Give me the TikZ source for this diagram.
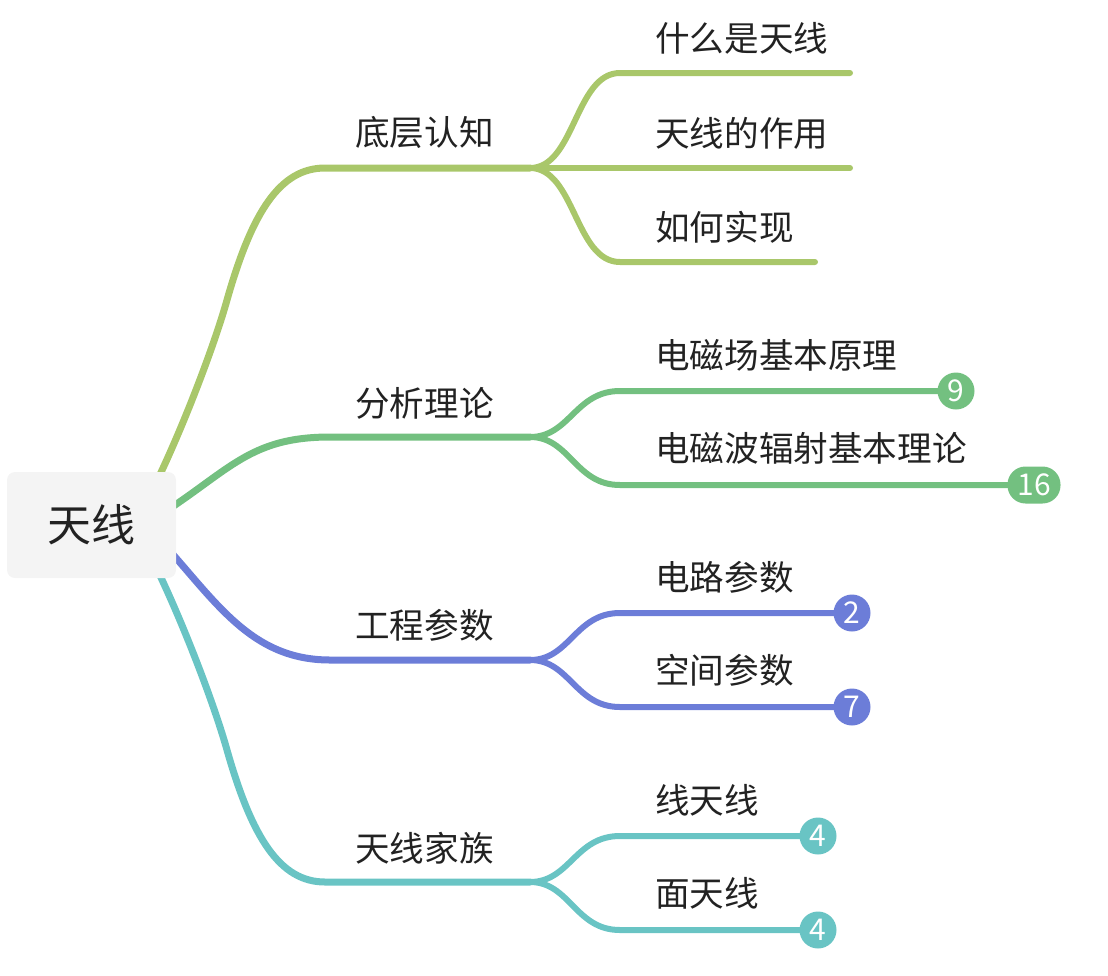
\documentclass[tikz,border=0pt]{standalone}
\usepackage{fontspec}
\newfontfamily\cjk{Noto Sans CJK SC}
\definecolor{cYG}{RGB}{169,199,106}
\definecolor{cGR}{RGB}{115,192,128}
\definecolor{cBL}{RGB}{108,125,216}
\definecolor{cTE}{RGB}{105,196,196}
\definecolor{rootbg}{RGB}{244,244,244}
\definecolor{txt}{RGB}{34,34,34}
\begin{document}
\begin{tikzpicture}[x=1pt,y=-1pt,
  rootbox/.style={fill=rootbg, rounded corners=8pt, minimum width=169pt, minimum height=106pt, inner sep=0pt, text=txt, font=\cjk\fontsize{44}{50}\selectfont},
  lbl/.style={anchor=base west, inner sep=0pt, text=txt, font=\cjk\fontsize{34.6}{40}\selectfont},
  branchline/.style={line width=7pt, line cap=round, draw=#1},
  subline/.style={line width=6pt, line cap=round, draw=#1},
  badge/.style={circle, fill=#1, text=white, minimum size=37pt, inner sep=0pt, font=\cjk\fontsize{30}{32}\selectfont},
  pill/.style={rectangle, rounded corners=18pt, fill=#1, text=white, minimum height=37pt, minimum width=53pt, inner sep=0pt, font=\cjk\fontsize{30}{32}\selectfont}
]
\useasboundingbox (0,0) rectangle (1108,975);

% coordinates
\coordinate (s1) at (150,495);
\coordinate (s2) at (160,515);
\coordinate (s3) at (160,540);
\coordinate (s4) at (150,555);
\coordinate (f1) at (530,168);
\coordinate (f2) at (530,437);
\coordinate (f3) at (530,660);
\coordinate (f4) at (530,882);
\coordinate (e11) at (850,73);
\coordinate (e12) at (850,168);
\coordinate (e13) at (815,262);
\coordinate (b21) at (956,391);
\coordinate (b22) at (1034,485);
\coordinate (b31) at (852,613);
\coordinate (b32) at (852,707);
\coordinate (b41) at (818,836);
\coordinate (b42) at (818,930);

% level 1 branches
\draw[branchline=cYG] (s1) .. controls (178,440) and (213,350) .. (227,300) .. controls (252,212) and (280,168) .. (325,168) -- (f1);
\draw[branchline=cGR] (s2) .. controls (230,470) and (250,437) .. (330,437) -- (f2);
\draw[branchline=cBL] (s3) .. controls (215,600) and (250,660) .. (330,660) -- (f3);
\draw[branchline=cTE] (s4) .. controls (178,610) and (213,700) .. (227,750) .. controls (252,838) and (280,882) .. (325,882) -- (f4);

% level 2 branches
\draw[subline=cYG] (f1) .. controls (575,168) and (575,73) .. (620,73) -- (e11);
\draw[subline=cYG] (f1) -- (e12);
\draw[subline=cYG] (f1) .. controls (575,168) and (575,262) .. (620,262) -- (e13);

\draw[subline=cGR] (f2) .. controls (570,437) and (575,391) .. (620,391) -- (b21);
\draw[subline=cGR] (f2) .. controls (570,437) and (575,485) .. (620,485) -- (b22);

\draw[subline=cBL] (f3) .. controls (570,660) and (575,613) .. (620,613) -- (b31);
\draw[subline=cBL] (f3) .. controls (570,660) and (575,707) .. (620,707) -- (b32);

\draw[subline=cTE] (f4) .. controls (570,882) and (575,836) .. (620,836) -- (b41);
\draw[subline=cTE] (f4) .. controls (570,882) and (575,930) .. (620,930) -- (b42);

% badges
\node[badge=cGR] (k21) at (b21) {9};
\node[pill=cGR] (k22) at (b22) {16};
\node[badge=cBL] (k31) at (b31) {2};
\node[badge=cBL] (k32) at (b32) {7};
\node[badge=cTE] (k41) at (b41) {4};
\node[badge=cTE] (k42) at (b42) {4};

% root
\node[rootbox] (root) at (91.5,525) {天线};

% level 2 labels
\node[lbl] (n1) at (355,145) {底层认知};
\node[lbl] (n2) at (355,416) {分析理论};
\node[lbl] (n3) at (355,638) {工程参数};
\node[lbl] (n4) at (355,861) {天线家族};

% level 3 labels
\node[lbl] (n11) at (655,51) {什么是天线};
\node[lbl] (n12) at (655,146) {天线的作用};
\node[lbl] (n13) at (655,240) {如何实现};
\node[lbl] (n21) at (655,368) {电磁场基本原理};
\node[lbl] (n22) at (655,461) {电磁波辐射基本理论};
\node[lbl] (n31) at (655,590) {电路参数};
\node[lbl] (n32) at (655,683) {空间参数};
\node[lbl] (n41) at (655,813) {线天线};
\node[lbl] (n42) at (655,906) {面天线};
\end{tikzpicture}
\end{document}
